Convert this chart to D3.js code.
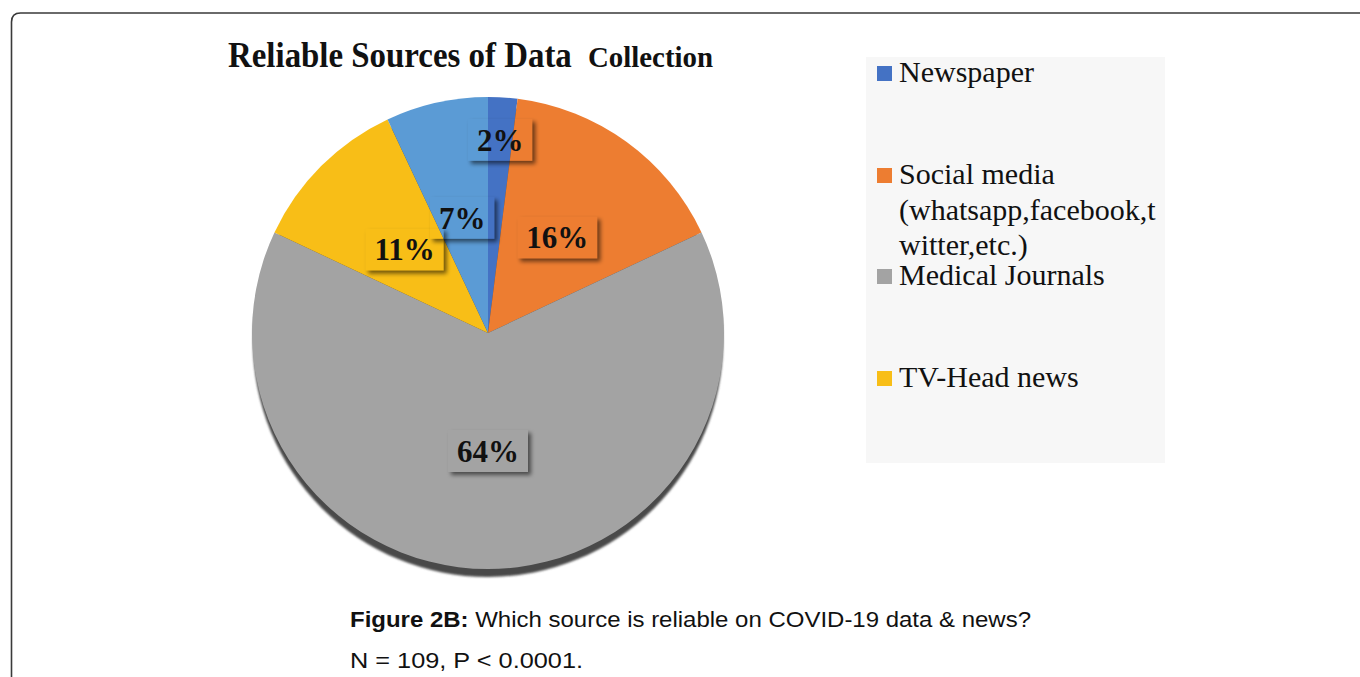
<!DOCTYPE html>
<html>
<head>
<meta charset="utf-8">
<script src="https://cdn.jsdelivr.net/npm/d3@7"></script>
<style>
  body { margin: 0; background: #fff; }
  svg { display: block; }
</style>
</head>
<body>
<div id="chart"></div>
<script>
// data
var categories = ["Newspaper", "Social media (whatsapp,facebook,twitter,etc.)", "Medical Journals", "TV-Head news", "Other"];
var values = [2, 16, 64, 11, 7];
var colors = ["#4472C4", "#ED7D31", "#A3A3A3", "#F8BE17", "#5B9BD5"];
var legendLines = [["Newspaper"], ["Social media", "(whatsapp,facebook,t", "witter,etc.)"], ["Medical Journals"], ["TV-Head news"]];
var titleParts = ["Reliable Sources of Data", "Collection"];
var captionBold = "Figure 2B:";
var captionRest = " Which source is reliable on COVID-19 data & news?";
var captionLine2 = "N = 109, P < 0.0001.";

function init() {
    var w = 1360, h = 677;
    var cx = 488, cy = 333, r = 236;

    var svg = d3.select("#chart").append("svg")
        .attr("width", w)
        .attr("height", h);

    var defs = svg.append("defs");

    // shadow only (outside of the box), box itself stays transparent
    var f = defs.append("filter").attr("id", "boxShadow")
        .attr("x", "-30%").attr("y", "-30%").attr("width", "160%").attr("height", "160%");
    f.append("feOffset").attr("in", "SourceAlpha").attr("dx", 3).attr("dy", 3).attr("result", "off");
    f.append("feGaussianBlur").attr("in", "off").attr("stdDeviation", 2.2).attr("result", "blur");
    f.append("feComponentTransfer").attr("in", "blur").attr("result", "fade")
        .append("feFuncA").attr("type", "linear").attr("slope", 0.55);
    f.append("feComposite").attr("in", "fade").attr("in2", "SourceAlpha").attr("operator", "out");

    var pf = defs.append("filter").attr("id", "pieShadow")
        .attr("x", "-10%").attr("y", "-10%").attr("width", "120%").attr("height", "120%");
    pf.append("feGaussianBlur").attr("stdDeviation", 1.2);

    // frame
    svg.append("path")
        .attr("d", "M11.5," + (h + 5) + " L11.5,22 Q11.5,13 20.5,13 L" + (w + 5) + ",13")
        .attr("fill", "none")
        .attr("stroke", "#3a3a3a")
        .attr("stroke-width", 1.6);

    // title: tall condensed type, so scale each part to the width seen in the figure
    var serif = "'Liberation Serif', 'Times New Roman', serif";
    function squeezed(txt, x, size, width) {
        var t = svg.append("text")
            .attr("x", 0).attr("y", 0)
            .attr("font-family", serif).attr("font-weight", "bold")
            .attr("font-size", size).attr("fill", "#111")
            .text(txt);
        var sx = width / t.node().getComputedTextLength();
        t.attr("transform", "translate(" + x + ",67) scale(" + sx + ",1)");
    }
    squeezed(titleParts[0], 228, 36, 344);
    squeezed(titleParts[1], 588, 30, 125);

    var pie = d3.pie().sort(null).value(function (d) { return d; });
    var arcs = pie(values);
    var arc = d3.arc().innerRadius(0).outerRadius(r);

    var g = svg.append("g").attr("transform", "translate(" + cx + "," + cy + ")");

    // dark rim under the pie
    g.append("circle")
        .attr("cx", 0).attr("cy", 9).attr("r", r - 1)
        .attr("fill", "#4a4a4a")
        .attr("filter", "url(#pieShadow)");

    g.selectAll("path.slice")
        .data(arcs)
        .enter().append("path")
        .attr("class", "slice")
        .attr("d", arc)
        .attr("fill", function (d, i) { return colors[i]; });

    // data labels
    var labels = g.selectAll("g.lab")
        .data(arcs)
        .enter().append("g")
        .attr("class", "lab")
        .attr("transform", function (d) {
            var frac = d.data < 5 ? 0.82 : 0.5;
            var c = d3.arc().innerRadius(r * frac).outerRadius(r * frac).centroid(d);
            return "translate(" + c[0] + "," + c[1] + ")";
        });

    labels.append("text")
        .attr("text-anchor", "middle")
        .attr("dy", "0.35em")
        .attr("font-family", serif)
        .attr("font-weight", "bold")
        .attr("font-size", 31)
        .attr("fill", "#111")
        .text(function (d) { return d.data + "%"; });

    labels.each(function () {
        var t = d3.select(this).select("text").node().getBBox();
        d3.select(this).insert("rect", "text")
            .attr("x", t.x - 9)
            .attr("y", -21)
            .attr("width", t.width + 18)
            .attr("height", 42)
            .attr("fill", "#000")
            .attr("filter", "url(#boxShadow)");
    });

    // legend
    var legend = svg.append("g");
    legend.append("rect")
        .attr("x", 866).attr("y", 57)
        .attr("width", 299).attr("height", 406)
        .attr("fill", "#f7f7f7");

    var baselines = [82, 184, 285, 387];
    legendLines.forEach(function (lines, i) {
        legend.append("rect")
            .attr("x", 877).attr("y", baselines[i] - 16)
            .attr("width", 15).attr("height", 15)
            .attr("fill", colors[i]);
        var t = legend.append("text")
            .attr("x", 899)
            .attr("y", baselines[i])
            .attr("font-family", serif)
            .attr("font-size", 30)
            .attr("fill", "#111");
        lines.forEach(function (ln, j) {
            t.append("tspan")
                .attr("x", 899)
                .attr("dy", j === 0 ? 0 : 35.5)
                .text(ln);
        });
    });

    // caption
    var sans = "'Liberation Sans', Arial, sans-serif";
    var cap = svg.append("text")
        .attr("x", 350)
        .attr("y", 627)
        .attr("font-family", sans)
        .attr("font-size", 22)
        .attr("fill", "#111")
        .attr("textLength", 681).attr("lengthAdjust", "spacingAndGlyphs");
    cap.append("tspan").attr("font-weight", "bold").text(captionBold);
    cap.append("tspan").text(captionRest);

    svg.append("text")
        .attr("x", 350)
        .attr("y", 668)
        .attr("font-family", sans)
        .attr("font-size", 22)
        .attr("fill", "#111")
        .attr("textLength", 233).attr("lengthAdjust", "spacingAndGlyphs")
        .text(captionLine2);
}

window.onload = init;
</script>
</body>
</html>
